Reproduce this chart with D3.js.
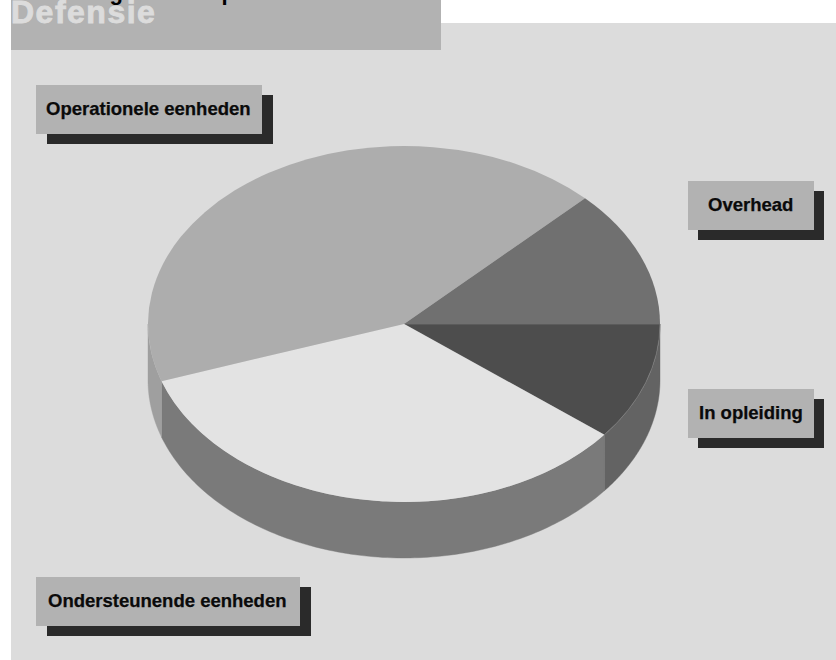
<!DOCTYPE html>
<html>
<head>
<meta charset="utf-8">
<script src="https://cdnjs.cloudflare.com/ajax/libs/d3/7.9.0/d3.min.js"></script>
<style>
  html, body { margin: 0; padding: 0; background: #fff; }
  svg { display: block; }
  text { font-family: "Liberation Sans", Arial, sans-serif; font-weight: 700; }
</style>
</head>
<body>
<svg id="chart" width="836" height="660"></svg>
<script>
// Share of personnel per category, clockwise from the 3 o'clock position
const categories = ["In opleiding", "Ondersteunende eenheden", "Operationele eenheden", "Overhead"];
const shares = [10.7, 34.1, 42.7, 12.5];
const topColors = ["#4d4d4d", "#e3e3e3", "#adadad", "#707070"];
const sideColors = ["#636363", "#7a7a7a", "#9f9f9f", "#707070"];
const topEdges = ["#7d7d7d", "none", "none", "none"];
const headingWords = ["Verdeling", "van", "operationele sterkte"];
const sectionTitle = "Defensie";

const cx = 404, cy = 324, rx = 256, ry = 178, depth = 56;

const svg = d3.select("#chart");

svg.append("rect").attr("x", 11).attr("y", 23).attr("width", 825).attr("height", 637).attr("fill", "#dcdcdc");
svg.append("rect").attr("x", 11).attr("y", 0).attr("width", 430).attr("height", 50).attr("fill", "#b2b2b2");

svg.append("text").attr("x", 11).attr("y", 23).attr("font-size", 32).attr("letter-spacing", 1.5)
  .attr("fill", "#dcdcdc").attr("stroke", "#dcdcdc").attr("stroke-width", 0.9).text(sectionTitle);

// The heading sits mostly above the page edge, only its lowest strokes show
const headingX = [24, 168, 208];
svg.append("text").attr("y", 0).attr("font-size", 22).attr("fill", "#000")
  .selectAll("tspan").data(headingWords).join("tspan")
  .attr("x", (d, i) => headingX[i])
  .text(d => d);

// Pie angles start at 3 o'clock and run clockwise on screen
const pie = d3.pie().sort(null).value(d => d).startAngle(Math.PI / 2).endAngle(Math.PI / 2 + 2 * Math.PI);
const arcs = pie(shares);
const arc = d3.arc().innerRadius(0).outerRadius(rx);

const pointAt = (a, dy) => [cx + rx * Math.sin(a), cy - ry * Math.cos(a) + dy];

// Side wall: the visible front half of each slice, extruded downward
const wall = d3.line();
const wallPath = d => {
  const a0 = Math.max(d.startAngle, Math.PI / 2);
  const a1 = Math.min(d.endAngle, 3 * Math.PI / 2);
  if (a1 <= a0) return null;
  const n = 120;
  const front = d3.range(n + 1).map(i => a0 + (a1 - a0) * i / n);
  const pts = front.map(a => pointAt(a, 0)).concat(front.slice().reverse().map(a => pointAt(a, depth)));
  return wall(pts) + "Z";
};

svg.append("g").selectAll("path").data(arcs).join("path")
  .attr("d", wallPath)
  .attr("fill", (d, i) => sideColors[i])
  .attr("stroke", (d, i) => sideColors[i])
  .attr("stroke-width", 0.4);

svg.append("g")
  .attr("transform", `translate(${cx},${cy}) scale(1,${ry / rx})`)
  .selectAll("path").data(arcs).join("path")
  .attr("d", arc)
  .attr("fill", (d, i) => topColors[i])
  .attr("stroke", (d, i) => topEdges[i])
  .attr("stroke-width", 0.7);

// Label boxes with a hard drop shadow
const labelBoxes = [
  { name: categories[2], x: 36, y: 85, w: 226, h: 49, tx: 46, sx: 11 },
  { name: categories[3], x: 688, y: 181, w: 126, h: 49, tx: 708, sx: 10 },
  { name: categories[0], x: 688, y: 389, w: 126, h: 49, tx: 699, sx: 10 },
  { name: categories[1], x: 36, y: 577, w: 264, h: 49, tx: 48, sx: 11 }
];

const labels = svg.append("g").selectAll("g").data(labelBoxes).join("g");
labels.append("rect").attr("x", d => d.x + d.sx).attr("y", d => d.y + 10).attr("width", d => d.w).attr("height", d => d.h).attr("fill", "#2a2a2a");
labels.append("rect").attr("x", d => d.x).attr("y", d => d.y).attr("width", d => d.w).attr("height", d => d.h).attr("fill", "#b2b2b2");
labels.append("text").attr("x", d => d.tx).attr("y", d => d.y + 30).attr("font-size", 18.5).attr("fill", "#0a0a0a")
  .attr("stroke", "#0a0a0a").attr("stroke-width", 0.25).text(d => d.name);
</script>
</body>
</html>
